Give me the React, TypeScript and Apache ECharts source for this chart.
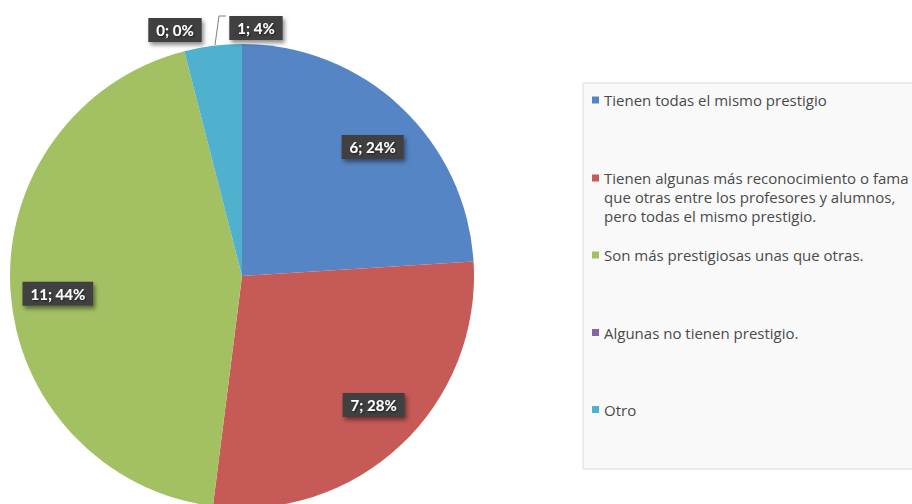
import React, { useEffect, useRef } from "react";
import * as echarts from "echarts";

const categories = [
  "Tienen todas el mismo prestigio",
  "Tienen algunas más reconocimiento o fama que otras entre los profesores y alumnos, pero todas el mismo prestigio.",
  "Son más prestigiosas unas que otras.",
  "Algunas no tienen prestigio.",
  "Otro",
];
const values = [6, 7, 11, 0, 1];
const legendLabels = [
  "Tienen todas el mismo prestigio",
  "Tienen algunas más reconocimiento o fama\nque otras entre los profesores y alumnos,\npero todas el mismo prestigio.",
  "Son más prestigiosas unas que otras.",
  "Algunas no tienen prestigio.",
  "Otro",
];
const colors = ["#5585C5", "#C65A56", "#A3C163", "#8567A8", "#4FB1CD"];

const legendTops = [90.5, 168.5, 245.5, 323, 400];
const outsideLabelPos: Record<number, [number, number]> = {
  3: [175, 30],
  4: [256, 28],
};
const insideLabelNudge: Record<number, [number, number]> = {
  0: [3, 7],
  1: [4, -7],
  2: [2, 6],
};

export default function App() {
  const ref = useRef<HTMLDivElement>(null);
  useEffect(() => {
    if (!ref.current) return;
    const chart = echarts.init(ref.current, null, { renderer: "svg" });
    const center = [242, 276];
    const R = 232;
    const labelBox = {
      backgroundColor: "#404040",
      color: "#ffffff",
      fontFamily: "Lato",
      fontWeight: "bold" as const,
      fontSize: 15,
      lineHeight: 16,
      padding: [4, 8],
      shadowColor: "rgba(0,0,0,0.45)",
      shadowBlur: 4,
      shadowOffsetX: 2,
      shadowOffsetY: 3,
      textShadowColor: "rgba(0,0,0,0.6)",
      textShadowBlur: 2,
      textShadowOffsetX: 1,
      textShadowOffsetY: 1,
    };
    const tallIcon = "path://M0,0L7,0L7,7L0,7Z M0,45L0.01,45";
    chart.setOption({
      animation: false,
      color: colors,
      graphic: [
        {
          type: "rect",
          z: 0,
          shape: { x: 583, y: 83, width: 340, height: 386 },
          style: { fill: "#f9f9f9", stroke: "#dcdcdc", lineWidth: 1 },
        },
      ],
      legend: categories.map((c, i) => ({
        data: [c],
        left: 592,
        top: legendTops[i],
        padding: 0,
        icon: i === 1 ? tallIcon : "rect",
        itemWidth: 7,
        itemHeight: i === 1 ? 45 : 7,
        selectedMode: false,
        formatter: () => legendLabels[i],
        textStyle: {
          fontFamily: "Open Sans",
          fontSize: 15,
          lineHeight: 19,
          color: "#4a4a4a",
        },
      })),
      series: [
        {
          type: "pie",
          center,
          radius: [0, R],
          startAngle: 90,
          clockwise: true,
          silent: true,
          label: { show: false },
          labelLine: { show: false },
          data: categories.map((c, i) => ({ name: c, value: values[i] })),
        },
        {
          type: "pie",
          center,
          radius: [135, R],
          startAngle: 90,
          clockwise: true,
          silent: true,
          avoidLabelOverlap: false,
          itemStyle: { color: "rgba(0,0,0,0)" },
          label: {
            show: true,
            position: "inside",
            formatter: "{c}; {d}%",
            ...labelBox,
          },
          labelLine: { show: false },
          labelLayout: (params: any) => {
            const p = outsideLabelPos[params.dataIndex];
            if (p) {
              const out: any = { x: p[0], y: p[1], align: "center", verticalAlign: "middle" };
              if (params.dataIndex === 4) {
                out.labelLinePoints = [
                  [215, 45],
                  [219, 16],
                  [226, 16],
                ];
              }
              return out;
            }
            const n = insideLabelNudge[params.dataIndex];
            return n ? { dx: n[0], dy: n[1] } : {};
          },
          data: categories.map((c, i) => ({
            name: c,
            value: values[i],
            label: i >= 3 ? { position: "outside" } : undefined,
            labelLine:
              i === 4
                ? { show: true, length: 10, length2: 5, lineStyle: { color: "#7f7f7f", width: 1 } }
                : { show: false },
          })),
        },
      ],
    });
    return () => chart.dispose();
  }, []);
  return (
    <div
      ref={ref}
      style={{ position: "fixed", left: 0, top: 0, width: 912, height: 504, background: "#fff" }}
    />
  );
}
